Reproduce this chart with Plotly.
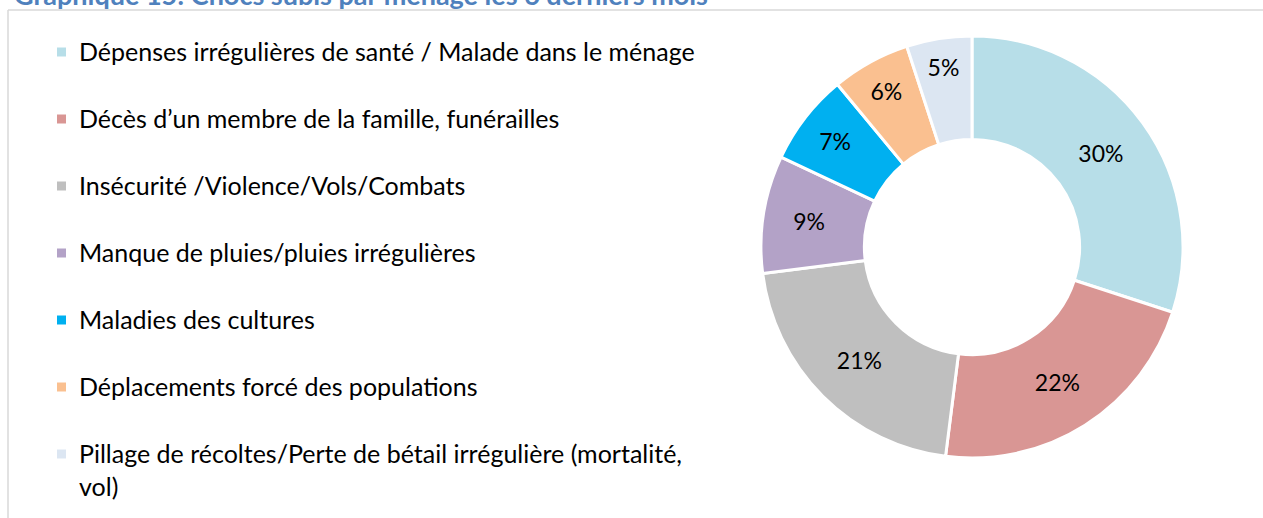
import plotly.graph_objects as go

W, H = 1263, 518

title_text = "Graphique 15: Chocs subis par ménage les 6 derniers mois"
categories = [
    "Dépenses irrégulières de santé / Malade dans le ménage",
    "Décès d’un membre de la famille, funérailles",
    "Insécurité /Violence/Vols/Combats",
    "Manque de pluies/pluies irrégulières",
    "Maladies des cultures",
    "Déplacements forcé des populations",
    "Pillage de récoltes/Perte de bétail irrégulière (mortalité,<br>vol)",
]
values = [30, 22, 21, 9, 7, 6, 5]
colors = ["#B7DEE8", "#D99694", "#BFBFBF", "#B3A2C7", "#00B0F0", "#FAC090", "#DCE6F2"]

FONT = "Lato"

# pie geometry (pixels)
cx, cy, r = 972, 247, 211

fig = go.Figure()
fig.add_trace(go.Pie(
    labels=categories,
    values=values,
    marker=dict(colors=colors, line=dict(color="white", width=3)),
    hole=0.51,
    sort=False,
    direction="clockwise",
    rotation=0,
    textinfo="percent",
    texttemplate="%{percent:.0%}",
    textposition="inside",
    insidetextorientation="horizontal",
    insidetextfont=dict(family=FONT, size=23, color="black"),
    domain=dict(x=[(cx - r) / W, (cx + r) / W], y=[(H - cy - r) / H, (H - cy + r) / H]),
    showlegend=False,
    hoverinfo="label+percent",
))

shapes = []
annotations = []

# frame lines
shapes.append(dict(type="line", xref="paper", yref="paper",
                   x0=8 / W, x1=1.0, y0=1 - 10 / H, y1=1 - 10 / H,
                   line=dict(color="#D9D9D9", width=1.5)))
shapes.append(dict(type="line", xref="paper", yref="paper",
                   x0=8 / W, x1=8 / W, y0=0, y1=1 - 10 / H,
                   line=dict(color="#D9D9D9", width=1.5)))

# title (cut at top like reference)
annotations.append(dict(text="<b>" + title_text + "</b>", xref="paper", yref="paper",
                        x=12 / W, y=1, xanchor="left", yanchor="middle", yshift=6,
                        showarrow=False, font=dict(family=FONT, size=27, color="#4F81BD")))

# custom legend
y0_leg, step = 52, 67
sq = 9
for i, (lab, col) in enumerate(zip(categories, colors)):
    yc = y0_leg + i * step
    shapes.append(dict(type="rect", xref="paper", yref="paper",
                       x0=57 / W, x1=(57 + sq) / W,
                       y0=1 - (yc + sq / 2) / H, y1=1 - (yc - sq / 2) / H,
                       line=dict(width=0), fillcolor=col))
    annotations.append(dict(text=lab, xref="paper", yref="paper",
                            x=77 / W, y=1 - (yc - 18) / H, xanchor="left", yanchor="top",
                            align="left", showarrow=False,
                            font=dict(family=FONT, size=25, color="black")))

fig.update_layout(
    width=W, height=H,
    margin=dict(l=0, r=0, t=0, b=0),
    paper_bgcolor="white", plot_bgcolor="white",
    shapes=shapes, annotations=annotations,
)

fig.write_html("out.html", config={"displayModeBar": False},
               post_script="document.body.style.margin='0';document.body.style.overflow='hidden';")
